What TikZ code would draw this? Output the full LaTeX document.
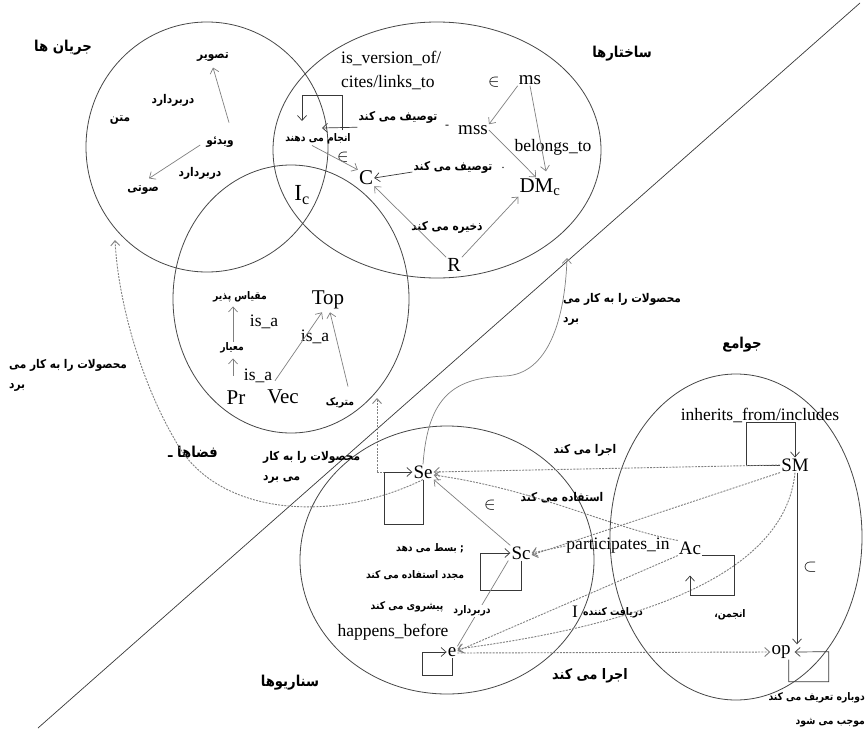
\documentclass[tikz,border=0pt]{standalone}
\usepackage{fontspec}
\setmainfont{Liberation Serif}
\newfontfamily\fa[Script=Arabic,FakeStretch=0.88]{DejaVu Sans}
\TeXXeTstate=1
\usetikzlibrary{arrows.meta,calc}
\newcommand{\fatext}[1]{{\fa\bfseries\beginR #1\endR}}
\begin{document}
\begin{tikzpicture}[x=1pt,y=-1pt,
  fa/.style={font=\fontsize{12}{20}\selectfont, inner sep=1pt},
  fas/.style={font=\fontsize{10.5}{12}\selectfont, inner sep=1pt},
  fat/.style={font=\fontsize{15}{18}\selectfont, inner sep=1pt},
  lat/.style={font=\fontsize{19}{22}\selectfont, inner sep=1pt},
  latsm/.style={font=\fontsize{17.5}{24}\selectfont, inner sep=1pt},
  ln/.style={draw=black!78, line width=0.7pt},
  gl/.style={draw=black!50, line width=0.7pt},
  dsh/.style={draw=black!50, line width=0.9pt, dash pattern=on 2pt off 1.2pt},
  arr/.style={-{Straight Barb[length=5pt,width=9pt]}},
  circ/.style={draw=black!72, line width=0.8pt}]
\useasboundingbox (0,0) rectangle (867,736);
\fill[white] (0,0) rectangle (867,736);

% big diagonal
\coordinate (dA) at (38,728);
\coordinate (dB) at (860,3);
\draw[ln] (dA) -- (dB);

% circles
\draw[circ] (207,147) ellipse [x radius=121pt, y radius=125pt];
\draw[circ] (437,150) ellipse [x radius=164pt, y radius=128pt];
\draw[circ] (291,299) ellipse [x radius=118pt, y radius=134pt];
\draw[circ] (447,560) ellipse [x radius=147pt, y radius=134pt];
\draw[circ] (736,537) ellipse [x radius=126pt, y radius=163pt];

% titles
\node[fat] (tFlows) at (63,48) {\fatext{جریان ها}};
\node[fat] (tStruct) at (622,54) {\fatext{ساختارها}};
\node[fat] (tSpaces) at (193,452) {\fatext{فضاها ـ}};
\node[fat] (tScen) at (290,683) {\fatext{سناریوها}};
\node[fat] (tSoc) at (742,345) {\fatext{جوامع}};

% ---------- streams
\node[fa] (nImage) at (213,57) {\fatext{تصویر}};
\node[fa] (nCont1) at (173,100) {\fatext{دربردارد}};
\node[fa] (nText) at (120,120) {\fatext{متن}};
\node[fa] (nVideo) at (220,142) {\fatext{ویدئو}};
\node[fa] (nCont2) at (200,173) {\fatext{دربردارد}};
\node[fa] (nAudio) at (143,190) {\fatext{صوتی}};
\draw[gl,arr] ([xshift=9pt,yshift=13pt]nVideo.north) -- ([yshift=-5pt]nImage.south);
\draw[gl,arr] ([xshift=-5pt,yshift=-3pt]nVideo.west) -- ([xshift=6pt,yshift=6pt]nAudio.north);

% ---------- structures
\node[latsm, anchor=north west, align=left] (nIsv) at (340,50) {is\_version\_of/\\cites/links\_to};
\coordinate (lpA) at (342,130);
\coordinate (lpB) at (302,95);
\coordinate (lpC) at (302,121);
\draw[ln,arr] (lpA) |- (lpB) -- (lpC);
\node[fa] (nDesc1) at (398,117) {\fatext{توصیف می کند}};
\coordinate (d1end) at (322,128);
\draw[ln,arr] ([yshift=-3pt]nDesc1.south west) -- (d1end);
\node[fa] (nDash1) at (447,127) {-};
\node[lat] (nMss) at (473,130) {mss};
\node[lat] (nMs) at (530,80) {ms};
\node[latsm] (nIn1) at (494,82) {$\in$};
\node[latsm] (nBel) at (553,147) {belongs\_to};
\node[fas] (nPerf) at (318,139) {\fatext{انجام می دهند}};
\node[latsm] (nIn2) at (343,157) {$\in$};
\node[lat, font=\fontsize{21}{24}\selectfont] (nC) at (366,178) {C};
\node[fa] (nDesc2) at (453,167) {\fatext{توصیف می کند}};
\node[fa] (nDot2) at (503,168) {.};
\node[lat, font=\fontsize{21}{24}\selectfont] (nDMc) at (540,187) {DM\textsubscript{c}};
\node[lat, font=\fontsize{23}{26}\selectfont] (nIc) at (302,195) {I\textsubscript{c}};
\node[fa] (nStore) at (447,227) {\fatext{ذخیره می کند}};
\node[lat, font=\fontsize{20}{24}\selectfont] (nR) at (454,265) {R};
\draw[gl,arr] (nMs.south west) -- (nMss.north east);
\draw[gl,arr] (nMs.south) -- ([xshift=6pt,yshift=6pt]nDMc.north);
\draw[gl,arr] (nMss.east) -- ([xshift=-4pt]nDMc.north);
\draw[gl,arr] ([xshift=-6pt]nPerf.south) -- (nC.north west);
\draw[ln,arr] ([yshift=-5pt]nDesc2.west) -- (nC.east);
\draw[gl,arr] (nR.north west) -- (nC.south east);
\draw[gl,arr] (nR.north east) -- (nDMc.south west);

% ---------- spaces
\node[fas] (nMeasurable) at (240,297) {\fatext{مقیاس پذیر}};
\node[latsm] (nIsa1) at (264,322) {is\_a};
\node[fas] (nMeasure) at (232,348) {\fatext{معیار}};
\node[latsm] (nIsa2) at (258,376) {is\_a};
\node[lat, font=\fontsize{21}{24}\selectfont] (nTop) at (328,300) {Top};
\node[latsm] (nIsa3) at (315,337) {is\_a};
\node[lat, font=\fontsize{21}{24}\selectfont] (nPr) at (236,398) {Pr};
\node[lat, font=\fontsize{21}{24}\selectfont] (nVec) at (283,397) {Vec};
\node[fas] (nMetric) at (340,403) {\fatext{متریک}};
\draw[gl,arr] (nMeasure.north -| 233,0) -- ([yshift=-3pt]nMeasurable.south -| 233,0);
\draw[gl,arr] ([yshift=14pt]nPr.north -| 233,0) -- ([yshift=-4pt]nMeasure.south -| 233,0);
\draw[gl,arr] ([xshift=-8pt,yshift=8pt]nVec.north) -- ([xshift=-6pt,yshift=-2pt]nTop.south);
\draw[gl,arr] ([xshift=8pt,yshift=10pt]nMetric.north) -- ([xshift=2pt,yshift=-2pt]nTop.south);

% ---------- scenarios
\node[lat] (nSe) at (423,472) {Se};
\node[latsm] (nIn3) at (490,505) {$\in$};
\node[lat] (nSc) at (521,553) {Sc};
\node[fas] (nExt) at (430,548) {\fatext{; بسط می دهد}};
\node[fas] (nReuse) at (415,575) {\fatext{مجدد استفاده می کند}};
\node[fas] (nAdv) at (407,607) {\fatext{پیشروی می کند}};
\node[latsm] (nHb) at (393,632) {happens\_before};
\node[lat] (nE) at (452,652) {e};
% Se loop
\draw[ln,arr] (nSe.south) -- ++(0,45) -| ([xshift=-28pt]nSe.west) -- (nSe.west);
% Sc -> Se
\draw[gl,arr] (nSc.north west) -- (nSe.south east);
% Sc loop
\draw[ln,arr] (nSc.south) -- ++(0,30) -| ([xshift=-30pt]nSc.west) -- (nSc.west);
% Sc - e
\draw[gl] ([xshift=-2pt]nSc.south west) -- (nE.north east);
\node[fas, fill=white] (nCont3) at (472,611) {\fatext{دربردارد}};
% e loop
\draw[ln,arr] (nE.south) -- ++(0,18) -| ([xshift=-24pt]nE.west) -- (nE.west);

% uses products
\node[fa, anchor=north west, align=left] (nUseL) at (8,358) {\fatext{محصولات را به کار می}\\\fatext{برد}};
\node[fa, anchor=north west, align=left] (nUseM) at (262,450) {\fatext{محصولات را به کار}\\\fatext{می برد}};
\node[fa, anchor=north west, align=left] (nUseR) at (562,292) {\fatext{محصولات را به کار می}\\\fatext{برد}};
\coordinate (fIn) at (115,240);
\coordinate (spIn) at (377,398);
\coordinate (stIn) at (567,258);
\draw[dsh,arr] (nSe.south) .. controls (330,525) and (215,515) .. (175,440) .. controls (140,380) and (118,300) .. (fIn);
\draw[dsh,arr] (nSe.west -| spIn) -- (spIn);
\draw[dsh] (nSe.west -| spIn) -- ([xshift=-28pt]nSe.west);
\draw[gl,arr] (nSe.north) .. controls (428,395) and (455,378) .. (505,376) .. controls (548,374) and (565,320) .. (stIn);

% ---------- societies
\node[latsm] (nInh) at (760,415) {inherits\_from/includes};
\node[lat] (nSM) at (795,465) {SM};
\node[fa] (nExec1) at (585,450) {\fatext{اجرا می کند}};
\node[fa] (nUses) at (562,498) {\fatext{استفاده می کند}};
\node[latsm] (nPart) at (618,546) {participates\_in};
\node[lat] (nAc) at (690,548) {Ac};
\node[lat] (nSub) at (810,567) {$\subset$};
\node[fas] (nAssoc) at (730,615) {\fatext{انجمن،}};
\node[fas, anchor=west] (nRecip) at (582,613) {\fatext{دریافت کننده}};
\node[latsm] (nI) at (575,612) {I};
\node[lat] (nOp) at (781,652) {op};
\node[fat, font=\fontsize{14.5}{18}\selectfont] (nExec2) at (590,676) {\fatext{اجرا می کند}};
\node[fas, anchor=east] (nRedef) at (866,698) {\fatext{دوباره تعریف می کند}};
\node[fas, anchor=east] (nCause) at (866,723) {\fatext{موجب می شود}};

% SM loop
\draw[ln,arr] (nSM.west) -- ++(-34,0) -- ++(0,-43) -| (nSM.north);
% SM -> Se
\draw[dsh,arr] (nSM.west) -- (nSe.east);
% SM -> Sc
\draw[dsh,arr] (nSM.south west) -- ([yshift=-2pt]nSc.east);
% SM -> e
\draw[dsh,arr] (nSM.south) .. controls (785,575) and (640,625) .. ([yshift=3pt]nE.east);
% SM -> op
\draw[ln,arr] ([xshift=2pt]nSM.south) -- ([xshift=2pt]nSM.south |- nOp.north);
% Ac -> Sc
\draw[dsh,arr] (nPart.west) -- (nSc.east);
% Ac loop
\draw[ln,arr] (nAc.south east) -- ++(32,0) -- ++(0,40) -| ([yshift=-20pt]nAc.south);
% Ac -> e
\draw[dsh,arr] (nAc.south west) -- ([yshift=1pt]nE.east);
% Ac -> Se (uses)
\draw[dsh,arr] (nAc.north west) .. controls (610,528) and (540,490) .. ([yshift=-3pt]nSe.east);
% e -> op
\draw[dsh,arr] ([yshift=-1pt]nE.east) -- (nOp.west);
% op loop
\draw[ln,arr] ([xshift=-3pt]nOp.south east) -- ++(0,22) -- ++(40,0) -- ++(0,-30) -- ([xshift=3pt]nOp.east);
\end{tikzpicture}
\end{document}
